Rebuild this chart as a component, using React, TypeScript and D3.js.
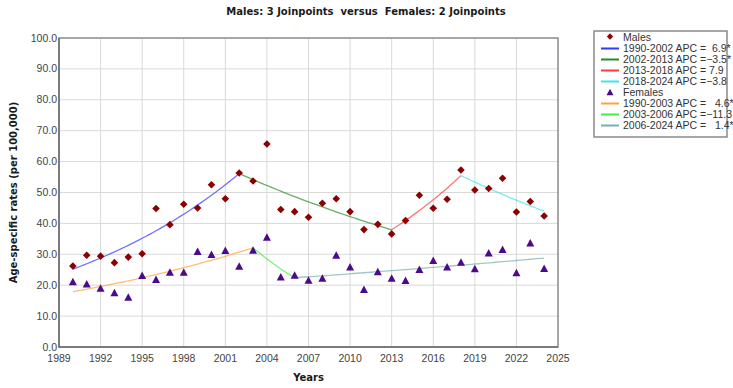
import React from "react";
import * as d3 from "d3";

// Observed age-specific rates per 100,000, 1990-2024
const YEARS = [
  1990, 1991, 1992, 1993, 1994, 1995, 1996, 1997, 1998, 1999, 2000, 2001,
  2002, 2003, 2004, 2005, 2006, 2007, 2008, 2009, 2010, 2011, 2012, 2013,
  2014, 2015, 2016, 2017, 2018, 2019, 2020, 2021, 2022, 2023, 2024,
];
const MALE_RATES = [
  26.2, 29.7, 29.4, 27.3, 29.1, 30.2, 44.8, 39.6, 46.2, 45.0, 52.5, 48.0,
  56.3, 53.7, 65.7, 44.5, 43.8, 42.0, 46.5, 48.0, 43.8, 38.0, 39.7, 36.6,
  40.9, 49.1, 44.9, 47.8, 57.3, 50.8, 51.3, 54.6, 43.7, 47.1, 42.4,
];
const FEMALE_RATES = [
  21.2, 20.5, 19.1, 17.6, 16.2, 23.2, 21.9, 24.3, 24.3, 31.0, 30.0, 31.3,
  26.2, 31.4, 35.6, 22.7, 23.3, 21.7, 22.3, 29.8, 26.0, 18.7, 24.4, 22.3,
  21.6, 25.2, 28.1, 26.0, 27.5, 25.4, 30.5, 31.6, 24.1, 33.7, 25.5,
];

// Joinpoint segments: year span, annual percent change, legend text, colour
const MALE_START = 25.2;
const MALE_SEGMENTS = [
  { from: 1990, to: 2002, apc: 6.9, label: "1990-2002 APC =  6.9*", color: "#3535ff" },
  { from: 2002, to: 2013, apc: -3.5, label: "2002-2013 APC =\u22123.5*", color: "#2a8a2a" },
  { from: 2013, to: 2018, apc: 7.9, label: "2013-2018 APC = 7.9", color: "#ff3a3a" },
  { from: 2018, to: 2024, apc: -3.8, label: "2018-2024 APC =\u22123.8", color: "#3ee6e6" },
];
const FEMALE_START = 17.9;
const FEMALE_SEGMENTS = [
  { from: 1990, to: 2003, apc: 4.6, label: "1990-2003 APC =   4.6*", color: "#ffa23a" },
  { from: 2003, to: 2006, apc: -11.3, label: "2003-2006 APC =\u221211.3", color: "#3cf03c" },
  { from: 2006, to: 2024, apc: 1.4, label: "2006-2024 APC =   1.4*", color: "#78b0b0" },
];

const X_TICKS = [1989, 1992, 1995, 1998, 2001, 2004, 2007, 2010, 2013, 2016, 2019, 2022, 2025];
const Y_TICKS = [0, 10, 20, 30, 40, 50, 60, 70, 80, 90, 100];

const W = 733;
const H = 388;
const PLOT = { left: 59, right: 558, top: 38, bottom: 347 };
const NARROW = "'Liberation Sans Narrow', 'Arial Narrow', 'Liberation Sans', sans-serif";
const BOLD = "'DejaVu Sans', Verdana, sans-serif";

const MALE_COLOR = "#8b0000";
const FEMALE_COLOR = "#4b0a8c";

type Seg = { from: number; to: number; apc: number; label: string; color: string };

// Log-linear joinpoint fit: each segment grows by its APC per year,
// starting where the previous segment ended.
function fitCurves(start: number, segs: Seg[]) {
  let level = start;
  return segs.map((s) => {
    const pts: [number, number][] = [];
    const steps = (s.to - s.from) * 4;
    for (let i = 0; i <= steps; i++) {
      const t = (i / steps) * (s.to - s.from);
      pts.push([s.from + t, level * Math.pow(1 + s.apc / 100, t)]);
    }
    level = level * Math.pow(1 + s.apc / 100, s.to - s.from);
    return { ...s, pts };
  });
}

function diamond(cx: number, cy: number, r: number) {
  return `M${cx},${cy - r}L${cx + r},${cy}L${cx},${cy + r}L${cx - r},${cy}Z`;
}
function triangle(cx: number, cy: number, w: number, h: number) {
  return `M${cx},${cy - h / 2}L${cx + w / 2},${cy + h / 2}L${cx - w / 2},${cy + h / 2}Z`;
}

export default function App() {
  const x = d3.scaleLinear().domain([1989, 2025]).range([PLOT.left, PLOT.right]);
  const y = d3.scaleLinear().domain([0, 100]).range([PLOT.bottom, PLOT.top]);
  const line = d3
    .line<[number, number]>()
    .x((d) => x(d[0]))
    .y((d) => y(d[1]))
    .curve(d3.curveLinear);

  const maleFits = fitCurves(MALE_START, MALE_SEGMENTS);
  const femaleFits = fitCurves(FEMALE_START, FEMALE_SEGMENTS);
  const fmt = d3.format(".1f");

  const legendX = 594;
  const legendY = 31;
  const rowH = 11;
  const legendRows: { kind: "male" | "female" | "line"; text: string; color: string }[] = [
    { kind: "male", text: "Males", color: MALE_COLOR },
    ...MALE_SEGMENTS.map((s) => ({ kind: "line" as const, text: s.label, color: s.color })),
    { kind: "female", text: "Females", color: FEMALE_COLOR },
    ...FEMALE_SEGMENTS.map((s) => ({ kind: "line" as const, text: s.label, color: s.color })),
  ];

  return (
    <svg width={W} height={H} style={{ display: "block", position: "absolute", left: 0, top: 0, background: "#fff" }}>
      <rect x={0} y={0} width={W} height={H} fill="#fff" />
      <text x={366} y={15} textAnchor="middle" fontFamily={BOLD} fontWeight="bold" fontSize={10} fill="#1a1a1a" style={{ whiteSpace: "pre" }}>
        {"Males: 3 Joinpoints  versus  Females: 2 Joinpoints"}
      </text>

      {/* grid */}
      <g stroke="#d9d9d9" strokeWidth={1}>
        {Y_TICKS.slice(1, -1).map((v) => (
          <line key={"gy" + v} x1={PLOT.left} x2={PLOT.right} y1={y(v)} y2={y(v)} />
        ))}
        {X_TICKS.slice(1, -1).map((v) => (
          <line key={"gx" + v} x1={x(v)} x2={x(v)} y1={PLOT.top} y2={PLOT.bottom} />
        ))}
      </g>

      {/* plot frame */}
      <rect x={PLOT.left} y={PLOT.top} width={PLOT.right - PLOT.left} height={PLOT.bottom - PLOT.top} fill="none" stroke="#8a8a8a" strokeWidth={1.5} />
      <path d={`M${PLOT.left},${PLOT.top}V${PLOT.bottom}H${PLOT.right}`} fill="none" stroke="#6e6e6e" strokeWidth={1.5} />

      {/* axis tick labels */}
      <g fontFamily={NARROW} fontSize={10.5} fill="#444">
        {Y_TICKS.map((v) => (
          <text key={"ty" + v} x={PLOT.left - 2} y={y(v) + 3.5} textAnchor="end">
            {fmt(v)}
          </text>
        ))}
        {X_TICKS.map((v) => (
          <text key={"tx" + v} x={x(v)} y={PLOT.bottom + 15} textAnchor="middle">
            {v}
          </text>
        ))}
      </g>

      <text x={(PLOT.left + PLOT.right) / 2} y={381} textAnchor="middle" fontFamily={BOLD} fontWeight="bold" fontSize={10} fill="#1a1a1a">
        Years
      </text>
      <text transform={`translate(17,${(PLOT.top + PLOT.bottom) / 2}) rotate(-90)`} textAnchor="middle" fontFamily={BOLD} fontWeight="bold" fontSize={10} fill="#1a1a1a">
        Age-specific rates (per 100,000)
      </text>

      {/* fitted joinpoint curves */}
      <g fill="none" strokeWidth={1.3} strokeOpacity={0.7}>
        {[...maleFits, ...femaleFits].map((s) => (
          <path key={s.label} d={line(s.pts) || ""} stroke={s.color} />
        ))}
      </g>

      {/* observed points */}
      <g fill={MALE_COLOR}>
        {YEARS.map((yr, i) => (
          <path key={"m" + yr} d={diamond(x(yr), y(MALE_RATES[i]), 3.8)} />
        ))}
      </g>
      <g fill={FEMALE_COLOR}>
        {YEARS.map((yr, i) => (
          <path key={"f" + yr} d={triangle(x(yr), y(FEMALE_RATES[i]), 8, 7.5)} />
        ))}
      </g>

      {/* legend */}
      <rect x={legendX} y={legendY} width={133} height={106} fill="#fff" stroke="#8a8a8a" strokeWidth={1.5} />
      <g fontFamily={NARROW} fontSize={10.5} fill="#333">
        {legendRows.map((r, i) => {
          const cy = legendY + 6.5 + i * rowH;
          return (
            <g key={r.text}>
              {r.kind === "line" && (
                <line x1={601} x2={619} y1={cy} y2={cy} stroke={r.color} strokeWidth={2} />
              )}
              {r.kind === "male" && <path d={diamond(610, cy - 1, 3.2)} fill={r.color} />}
              {r.kind === "female" && <path d={triangle(610, cy - 0.5, 7, 6.5)} fill={r.color} />}
              <text x={623} y={cy + 3.6} style={{ whiteSpace: "pre" }}>
                {r.text}
              </text>
            </g>
          );
        })}
      </g>
    </svg>
  );
}
